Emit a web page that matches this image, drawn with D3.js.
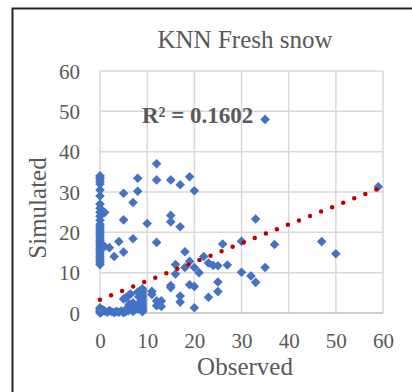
<!DOCTYPE html>
<html>
<head>
<meta charset="utf-8">
<script src="https://cdn.jsdelivr.net/npm/d3@7"></script>
<style>
  html, body { margin: 0; padding: 0; background: #fff; }
  svg { display: block; }
  svg text { font-family: "Liberation Serif", "Times New Roman", serif; }
</style>
</head>
<body>
<div id="chart"></div>
<script>
// observed / simulated pairs
const observed = [
  0, 0, 0, 0, 0, 0, 0, 0, 0, 0, 0, 0, 0, 0, 0, 0, 0, 0, 0, 0, 0, 0, 0, 0, 0, 0, 0, 0, 0, 0, 0, 0, 0,
  0, 0, 0, 0, 0,
  0.3, 0.6, 1, 1.5, 2, 2.5, 3, 3.5, 4, 4.5, 5, 5.5, 6, 6.5, 7, 7, 7.5, 8, 8, 8.5, 8.7,
  9, 9, 9, 9, 9, 9, 9, 9, 9, 9, 9, 9, 9, 8.5, 8, 6.5, 6, 5.5, 5, 7, 6, 6.2, 5.6, 8.2,
  1, 1, 2, 3, 4, 5, 5, 5, 7, 7, 8, 8,
  10, 11, 11, 12, 12, 12, 12, 12, 12.5, 13, 13, 15, 15, 15, 15, 15, 16, 16, 17, 17, 17, 17,
  18, 18, 19, 19, 19, 20, 20, 20, 20, 21, 22, 23, 23, 24, 25, 25, 25, 26, 27, 30, 30, 32,
  33, 33, 35, 35, 37, 47, 50, 59
];
const simulated = [
  34, 33.6, 33.2, 32.6, 32, 30.5, 29, 27, 26, 25, 24, 23, 22, 21.5, 21, 20.5, 20, 19.5, 19, 18.5, 18, 17.5, 17, 16.5, 16, 15.5, 15, 14.5, 14, 13.5, 13, 12.5, 12,
  0, 0.3, 0.6, 1, 1.3,
  0.2, 0.8, 0.5, 0.2, 0.6, 0.3, 0.1, 0.4, 0.2, 0.5, 0.1, 0.4, 0.6, 1, 1.2, 0.4, 1.6, 2, 1, 2.5, 3,
  0.3, 1, 1.5, 2, 2.5, 3, 3.5, 4, 4.5, 5, 5.5, 6, 0.7, 5.5, 5.2, 4.7, 4.3, 3.8, 3.5, 2.5, 1.5, 2.2, 1, 4,
  24.9, 16.5, 16.2, 14, 17.7, 29.7, 23.1, 15.1, 27.4, 18.4, 33.4, 30.2,
  22.2, 5.4, 4.6, 37, 33, 17.5, 3, 1.8, 2.5, 3, 1.6, 33, 24.2, 22.6, 6.8, 6.3, 12, 9.7, 31.8, 21.4, 4.2, 2.7,
  15.2, 11.3, 33.8, 12.8, 7, 30.3, 11.3, 6.6, 1.3, 10, 14, 12.4, 3.9, 11.8, 11.7, 7.7, 5.3, 17.1, 11.9, 17.8, 10.1, 9.2,
  23.3, 7.6, 48, 11.3, 17, 17.7, 14.7, 31.3
];
const points = observed.map((d, i) => ({ x: d, y: simulated[i] }));

// linear trendline ends, as drawn by the spreadsheet
const trendX = [0, 59];
const trendY = [3.3, 30.8];
const r2Label = 'R² = 0.1602';

const ticks = [0, 10, 20, 30, 40, 50, 60];

const W = 412, H = 392;
const plot = { left: 100, right: 383, top: 71, bottom: 313 };
const font = '"Liberation Serif", "Times New Roman", serif';
const textColor = '#595959';

const svg = d3.select('#chart').append('svg')
  .attr('width', W)
  .attr('height', H);

svg.append('rect')
  .attr('width', W).attr('height', H)
  .attr('fill', '#fff');

// outer frame of the chart object
svg.append('rect')
  .attr('x', 12.5).attr('y', 8.5)
  .attr('width', 420).attr('height', 420)
  .attr('fill', 'none')
  .attr('stroke', '#262626')
  .attr('stroke-width', 2);

const x = d3.scaleLinear().domain([0, 60]).range([plot.left, plot.right]);
const y = d3.scaleLinear().domain([0, 60]).range([plot.bottom, plot.top]);

// grid
svg.append('g')
  .selectAll('line.v')
  .data(ticks)
  .join('line')
  .attr('x1', d => x(d)).attr('x2', d => x(d))
  .attr('y1', plot.top).attr('y2', plot.bottom)
  .attr('stroke', '#d9d9d9')
  .attr('stroke-width', 1.5);

svg.append('g')
  .selectAll('line.h')
  .data(ticks.filter(d => d > 0))
  .join('line')
  .attr('x1', plot.left).attr('x2', plot.right)
  .attr('y1', d => y(d)).attr('y2', d => y(d))
  .attr('stroke', '#d9d9d9')
  .attr('stroke-width', 1.5);

// x axis line
svg.append('line')
  .attr('x1', plot.left).attr('x2', plot.right)
  .attr('y1', y(0)).attr('y2', y(0))
  .attr('stroke', '#bfbfbf')
  .attr('stroke-width', 1.5);

// tick labels
const xAxis = d3.axisBottom(x).tickValues(ticks).tickSize(0).tickPadding(0);
const gx = svg.append('g')
  .attr('transform', `translate(0,${plot.bottom})`)
  .call(xAxis)
  .attr('font-family', font)
  .attr('font-size', 21);
gx.select('.domain').remove();
gx.selectAll('text')
  .attr('y', 35)
  .attr('dy', null)
  .attr('fill', textColor);

const yAxis = d3.axisLeft(y).tickValues(ticks).tickSize(0).tickPadding(20);
const gy = svg.append('g')
  .attr('transform', `translate(${plot.left},0)`)
  .call(yAxis)
  .attr('font-family', font)
  .attr('font-size', 21);
gy.select('.domain').remove();
gy.selectAll('text')
  .attr('dy', '0.34em')
  .attr('fill', textColor);

// data markers (diamonds)
const diamond = d3.symbol().type(d3.symbolSquare).size(46);
svg.append('g')
  .selectAll('path')
  .data(points)
  .join('path')
  .attr('d', diamond)
  .attr('transform', d => `translate(${x(d.x)},${y(d.y)}) rotate(45)`)
  .attr('fill', '#4472c4');

// dotted trendline
const trend = trendX.map((d, i) => [d, trendY[i]]);
svg.append('path')
  .datum(trend)
  .attr('d', d3.line().x(d => x(d[0])).y(d => y(d[1])))
  .attr('fill', 'none')
  .attr('stroke', '#c00000')
  .attr('stroke-width', 4.5)
  .attr('stroke-linecap', 'round')
  .attr('stroke-dasharray', '0 11.9');

// texts
svg.append('text')
  .attr('x', 245).attr('y', 48)
  .attr('text-anchor', 'middle')
  .style('font-size', '25px')
  .attr('fill', textColor)
  .text('KNN Fresh snow');

svg.append('text')
  .attr('x', 142).attr('y', 123)
  .style('font-size', '23px')
  .style('font-weight', 'bold')
  .attr('fill', textColor)
  .text(r2Label);

svg.append('text')
  .attr('x', 245).attr('y', 375)
  .attr('text-anchor', 'middle')
  .style('font-size', '25px')
  .attr('fill', textColor)
  .text('Observed');

svg.append('text')
  .attr('transform', 'translate(46,208) rotate(-90)')
  .attr('text-anchor', 'middle')
  .style('font-size', '25px')
  .attr('fill', textColor)
  .text('Simulated');
</script>
</body>
</html>
